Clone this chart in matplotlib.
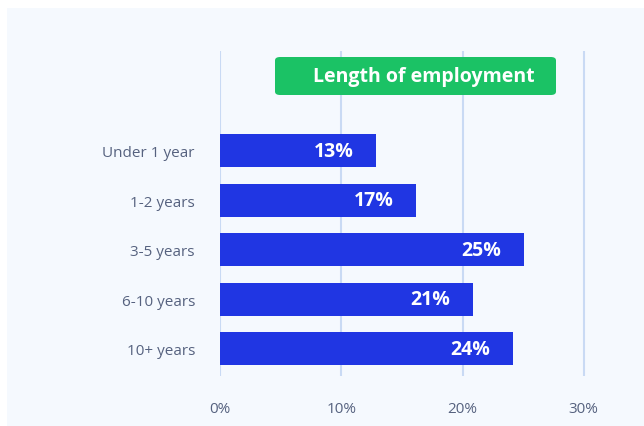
"""Horizontal bar chart: length of employment."""
import matplotlib
matplotlib.use("Agg")
import matplotlib.pyplot as plt
from matplotlib.patches import FancyBboxPatch, Rectangle

# ── data ────────────────────────────────────────────────────────────────────
categories = ["Under 1 year", "1-2 years", "3-5 years", "6-10 years", "10+ years"]
values = [12.9, 16.2, 25.1, 20.9, 24.2]
value_labels = ["13%", "17%", "25%", "21%", "24%"]
xticks = [0, 10, 20, 30]
xtick_labels = ["0%", "10%", "20%", "30%"]
title = "Length of employment"

BAR = "#2036e3"
GREEN = "#1bc265"
GRID = "#c9daf4"
PANEL = "#f5f9fe"
TEXT = "#56627f"
FONT = ["Open Sans", "DejaVu Sans"]

plt.rcParams["font.family"] = FONT

W, H = 644, 427
fig = plt.figure(figsize=(W / 100, H / 100), dpi=100)
fig.patch.set_facecolor("white")

# light panel behind everything
fig.patches.append(Rectangle((7 / W, 0), 1 - 7 / W, (H - 9) / H,
                             transform=fig.transFigure, facecolor=PANEL,
                             edgecolor="none", zorder=-10))

ax = fig.add_axes([220 / W, 50 / H, 382 / W, 325 / H])
ax.set_facecolor("none")
ax.set_zorder(1)

pos = list(range(len(categories)))
ax.barh(pos, values, height=0.67, color=BAR, zorder=3)
for p, v, lab in zip(pos, values, value_labels):
    ax.text(v - 1.9, p, lab, ha="right", va="center", color="white",
            fontsize=14, fontweight="bold", zorder=4)

ax.set_xlim(0, 31.5)
ax.set_ylim(4.55, -2.02)
for x in xticks:
    ax.axvline(x, color=GRID, lw=1.5, zorder=1)

ax.set_yticks(pos)
ax.set_yticklabels(categories, fontsize=11, color=TEXT)
ax.set_xticks(xticks)
ax.set_xticklabels(xtick_labels, fontsize=11, color=TEXT)
ax.tick_params(length=0)
ax.tick_params(axis="y", pad=18)
ax.tick_params(axis="x", pad=18)
for s in ax.spines.values():
    s.set_visible(False)

# title badge
fig.patches.append(FancyBboxPatch((275 / W, (H - 96) / H), 281 / W, 38 / H,
                                  boxstyle="round,pad=0,rounding_size=0.008",
                                  transform=fig.transFigure, facecolor=GREEN,
                                  edgecolor="none", zorder=5))
fig.text(424 / W, (H - 77) / H, title, ha="center", va="center", color="white",
         fontsize=14, fontweight="bold", zorder=6)

fig.savefig("out.png", dpi=100, facecolor=fig.get_facecolor())
